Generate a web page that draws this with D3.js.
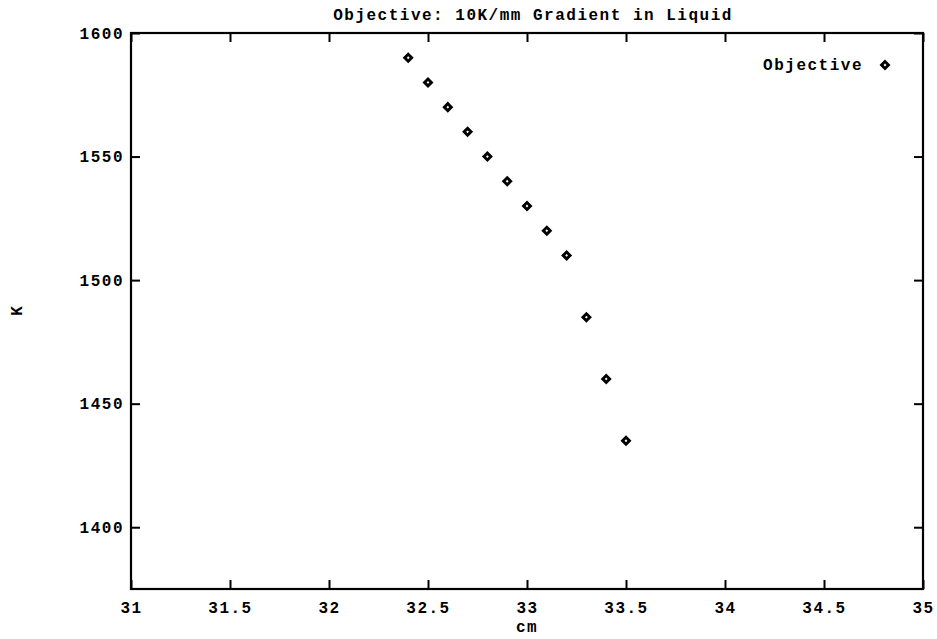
<!DOCTYPE html>
<html>
<head>
<meta charset="utf-8">
<script src="https://cdn.jsdelivr.net/npm/d3@7"></script>
<style>
  html, body { margin: 0; padding: 0; background: #fff; }
  svg text { font-family: "Liberation Mono", "DejaVu Sans Mono", monospace; font-weight: bold; fill: #000; }
</style>
</head>
<body>
<svg id="chart" width="937" height="639"></svg>
<script>
// ---- data ----
const titleText = "Objective: 10K/mm Gradient in Liquid";
const xLabel = "cm";
const yLabel = "K";
const seriesName = "Objective";
const xValues = [32.4, 32.5, 32.6, 32.7, 32.8, 32.9, 33.0, 33.1, 33.2, 33.3, 33.4, 33.5];
const yValues = [1590, 1580, 1570, 1560, 1550, 1540, 1530, 1520, 1510, 1485, 1460, 1435];
const xTicks = [31, 31.5, 32, 32.5, 33, 33.5, 34, 34.5, 35];
const xTickLabels = ["31", "31.5", "32", "32.5", "33", "33.5", "34", "34.5", "35"];
const yTicks = [1400, 1450, 1500, 1550, 1600];
const yTickLabels = ["1400", "1450", "1500", "1550", "1600"];
const xDomain = [31, 35];
const yDomain = [1375, 1600];

// ---- layout ----
const W = 937, H = 639;
const margin = { left: 131, top: 33, right: 14, bottom: 50 };
const pw = W - margin.left - margin.right;
const ph = H - margin.top - margin.bottom;
const tick = 9;
const fs = 16;
const ls = 1.5;

const svg = d3.select("#chart");
const g = svg.append("g").attr("transform", `translate(${margin.left},${margin.top})`);

const x = d3.scaleLinear().domain(xDomain).range([0, pw]);
const y = d3.scaleLinear().domain(yDomain).range([ph, 0]);

function styleAxis(sel) {
  sel.select(".domain").remove();
  sel.selectAll(".tick line").attr("stroke", "#000").attr("stroke-width", 2);
  sel.selectAll(".tick text").attr("font-size", fs).attr("letter-spacing", ls)
     .style("font-family", "'Liberation Mono', monospace").style("font-weight", "bold");
}

const xl = (d) => xTickLabels[xTicks.indexOf(d)];
const yl = (d) => yTickLabels[yTicks.indexOf(d)];

g.append("g").attr("transform", `translate(0,${ph})`)
  .call(d3.axisBottom(x).tickValues(xTicks).tickFormat(xl).tickSizeInner(-tick).tickSizeOuter(0).tickPadding(13))
  .call(styleAxis);
g.append("g")
  .call(d3.axisTop(x).tickValues(xTicks).tickFormat("").tickSizeInner(-tick).tickSizeOuter(0))
  .call(styleAxis);
g.append("g")
  .call(d3.axisLeft(y).tickValues(yTicks).tickFormat(yl).tickSizeInner(-tick).tickSizeOuter(0).tickPadding(7))
  .call(styleAxis);
g.append("g").attr("transform", `translate(${pw},0)`)
  .call(d3.axisRight(y).tickValues(yTicks).tickFormat("").tickSizeInner(-tick).tickSizeOuter(0))
  .call(styleAxis);

// border
g.append("rect").attr("x", 0).attr("y", 0).attr("width", pw).attr("height", ph)
  .attr("fill", "none").attr("stroke", "#000").attr("stroke-width", 2.2);

// points
const diamond = d3.symbol().type(d3.symbolSquare).size(24);
const pts = xValues.map((v, i) => ({ x: v, y: yValues[i] }));
g.selectAll(".pt").data(pts).enter().append("path")
  .attr("class", "pt")
  .attr("d", diamond)
  .attr("transform", d => `translate(${x(d.x)},${y(d.y)}) rotate(45)`)
  .attr("fill", "#fff").attr("stroke", "#000").attr("stroke-width", 2.9);

// title
svg.append("text").attr("x", 533).attr("y", 20).attr("text-anchor", "middle")
  .attr("font-size", fs).attr("letter-spacing", ls).text(titleText);

// x label
svg.append("text").attr("x", margin.left + pw / 2).attr("y", 632).attr("text-anchor", "middle")
  .attr("font-size", fs).attr("letter-spacing", ls).text(xLabel);

// y label
svg.append("text").attr("transform", `translate(22,${margin.top + ph / 2}) rotate(-90)`)
  .attr("text-anchor", "middle").attr("font-size", fs).text(yLabel);

// legend
svg.append("text").attr("x", 863).attr("y", 70).attr("text-anchor", "end")
  .attr("font-size", fs).attr("letter-spacing", ls).text(seriesName);
svg.append("path").attr("d", diamond)
  .attr("transform", `translate(885,65) rotate(45)`)
  .attr("fill", "#fff").attr("stroke", "#000").attr("stroke-width", 2.9);
</script>
</body>
</html>
